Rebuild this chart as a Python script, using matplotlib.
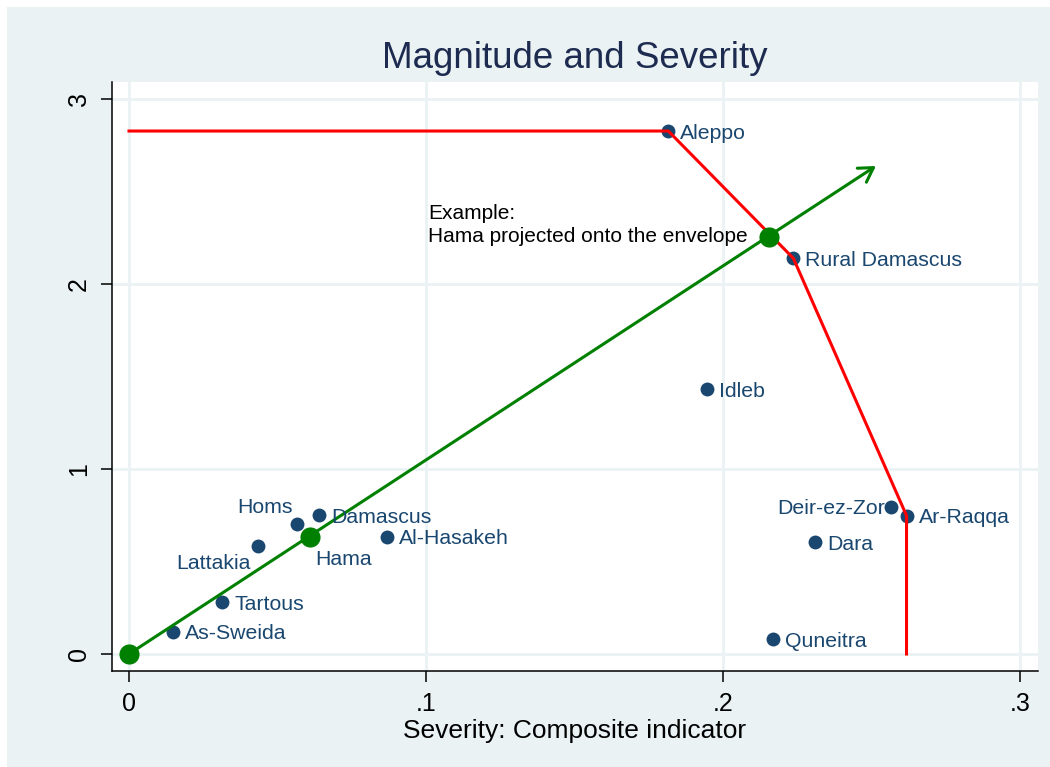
import matplotlib.pyplot as plt
from matplotlib.patches import Rectangle

plt.rcParams['font.family'] = ['Liberation Sans', 'DejaVu Sans']

# governorates: severity (x) and magnitude (y)
names = ["Aleppo", "Rural Damascus", "Idleb", "Deir-ez-Zor", "Ar-Raqqa", "Dara",
         "Quneitra", "Al-Hasakeh", "Damascus", "Homs", "Lattakia", "Tartous",
         "As-Sweida", "Hama"]
severity = [0.1816, 0.2237, 0.1946, 0.2565, 0.2618, 0.2310,
            0.2169, 0.0870, 0.0640, 0.0565, 0.0433, 0.0314,
            0.0147, 0.0608]
magnitude = [2.827, 2.139, 1.432, 0.796, 0.748, 0.604,
             0.079, 0.634, 0.751, 0.703, 0.585, 0.279,
             0.119, 0.631]

# envelope (red)
env_x = [0.0, 0.1816, 0.2237, 0.2618, 0.2618]
env_y = [2.827, 2.827, 2.139, 0.748, 0.0]

# projection of Hama onto envelope (green)
proj_x = [0.0, 0.0608, 0.2155]
proj_y = [0.0, 0.631, 2.256]
arrow_tip = (0.2515, 2.638)

# label placement (offset in px, horizontal alignment)
label_pos = {
    "Homs": (-4, 16, 'right'),
    "Lattakia": (-7, -18, 'right'),
    "Hama": (6, -22, 'left'),
    "Deir-ez-Zor": (-6, -2, 'right'),
}

navy = '#1a476f'
green = '#008000'
bg = '#eaf2f3'

fig = plt.figure(figsize=(10.5, 7.67), dpi=100, facecolor='white')
fig.patches.append(Rectangle((7 / 1050, 0), 1, 1 - 7 / 767, transform=fig.transFigure,
                             facecolor=bg, edgecolor='none', zorder=-10))
ax = fig.add_axes([112 / 1050, 96 / 767, 925.5 / 1050, 589 / 767])
ax.set_facecolor('white')

ax.set_xlim(-0.00572, 0.3059)
ax.set_ylim(-0.0919, 3.092)
ax.set_xticks([0, 0.1, 0.2, 0.3])
ax.set_xticklabels(["0", ".1", ".2", ".3"])
ax.set_yticks([0, 1, 2, 3])
ax.set_yticklabels(["0", "1", "2", "3"], rotation=90, va='center')
ax.grid(True, color=bg, linewidth=2.0)
ax.set_axisbelow(True)
for s in ['top', 'right']:
    ax.spines[s].set_visible(False)
for s in ['left', 'bottom']:
    ax.spines[s].set_linewidth(1.1)
ax.tick_params(direction='out', length=8, width=1.1, labelsize=18, pad=7)

# points
ax.plot(severity[:-1], magnitude[:-1], 'o', color=navy, markersize=10,
        markeredgewidth=0, zorder=3)
for n, x, y in zip(names, severity, magnitude):
    dx, dy, ha = label_pos.get(n, (12, -2, 'left'))
    ax.annotate(n, (x, y), xytext=(dx * 0.72, dy * 0.72), textcoords='offset points',
                ha=ha, va='center', fontsize=15.3, color=navy, zorder=6)

# envelope
ax.plot(env_x, env_y, color='red', linewidth=2.2, zorder=4)

# projection ray
ax.annotate("", xy=arrow_tip, xytext=(0, 0),
            arrowprops=dict(arrowstyle='->,head_length=0.5,head_width=0.3',
                            color=green, linewidth=2.2, shrinkA=0, shrinkB=0,
                            mutation_scale=20),
            zorder=5)
ax.plot(proj_x, proj_y, 'o', color=green, markersize=14.5, markeredgewidth=0, zorder=6)

ax.text(0.1007, 2.318, "Example:\nHama projected onto the envelope", fontsize=15,
        color='black', ha='left', va='center', linespacing=1.25, zorder=6)

ax.set_xlabel("Severity: Composite indicator", fontsize=19, labelpad=2)
fig.text((112 + 1037.5) / 2 / 1050, 1 - 58 / 767, "Magnitude and Severity",
         fontsize=26.5, color='#1e2b50', ha='center', va='center')

fig.savefig('out.png', dpi=100, facecolor=fig.get_facecolor())
